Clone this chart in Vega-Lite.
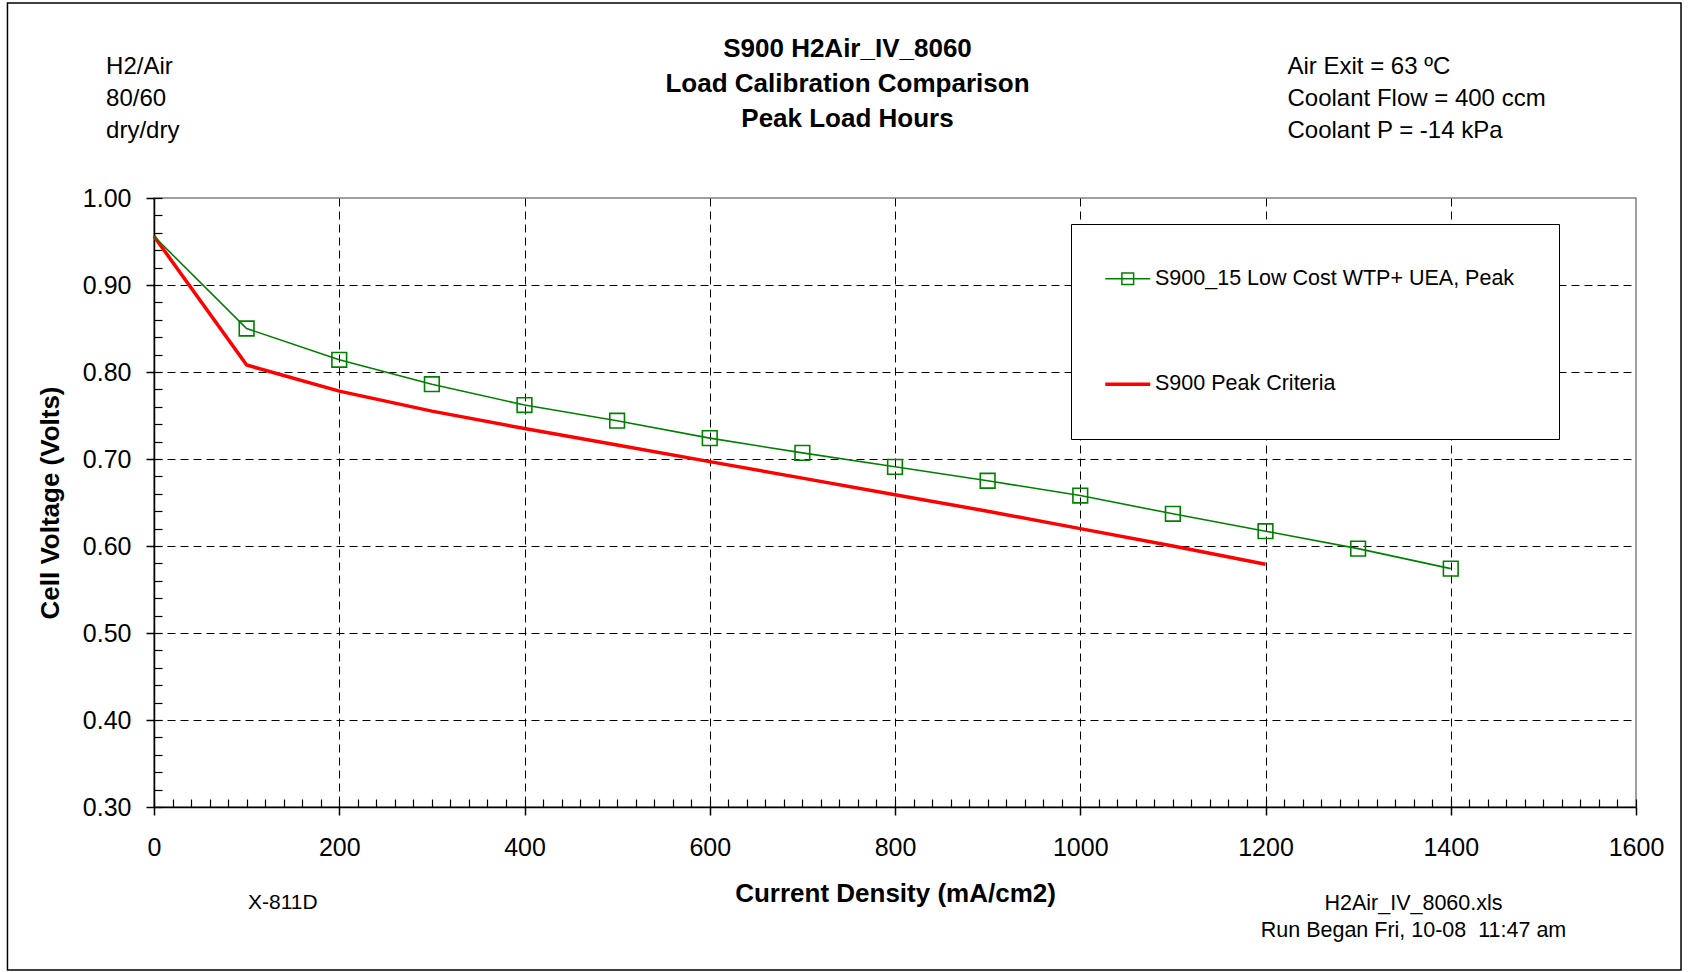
{
  "$schema": "https://vega.github.io/schema/vega-lite/v6.json",
  "width": 1482,
  "height": 609,
  "autosize": {"type": "none"},
  "padding": {"left": 154, "top": 198, "right": 54, "bottom": 165},
  "background": "white",
  "config": {
    "font": "Liberation Sans",
    "view": {"stroke": "#808080", "strokeWidth": 1.5},
    "axis": {"labelColor": "black", "tickColor": "black", "domainColor": "black", "titleColor": "black", "labelFont": "Liberation Sans", "titleFont": "Liberation Sans"}
  },
  "data": {
    "values": [
      {"series": "S900_15 Low Cost WTP+ UEA, Peak", "current": 0, "voltage": 0.956},
      {"series": "S900_15 Low Cost WTP+ UEA, Peak", "current": 100, "voltage": 0.850},
      {"series": "S900_15 Low Cost WTP+ UEA, Peak", "current": 200, "voltage": 0.814},
      {"series": "S900_15 Low Cost WTP+ UEA, Peak", "current": 300, "voltage": 0.786},
      {"series": "S900_15 Low Cost WTP+ UEA, Peak", "current": 400, "voltage": 0.762},
      {"series": "S900_15 Low Cost WTP+ UEA, Peak", "current": 500, "voltage": 0.744},
      {"series": "S900_15 Low Cost WTP+ UEA, Peak", "current": 600, "voltage": 0.724},
      {"series": "S900_15 Low Cost WTP+ UEA, Peak", "current": 700, "voltage": 0.707},
      {"series": "S900_15 Low Cost WTP+ UEA, Peak", "current": 800, "voltage": 0.691},
      {"series": "S900_15 Low Cost WTP+ UEA, Peak", "current": 900, "voltage": 0.675},
      {"series": "S900_15 Low Cost WTP+ UEA, Peak", "current": 1000, "voltage": 0.658},
      {"series": "S900_15 Low Cost WTP+ UEA, Peak", "current": 1100, "voltage": 0.637},
      {"series": "S900_15 Low Cost WTP+ UEA, Peak", "current": 1200, "voltage": 0.617},
      {"series": "S900_15 Low Cost WTP+ UEA, Peak", "current": 1300, "voltage": 0.597},
      {"series": "S900_15 Low Cost WTP+ UEA, Peak", "current": 1400, "voltage": 0.574},
      {"series": "S900 Peak Criteria", "current": 0, "voltage": 0.956},
      {"series": "S900 Peak Criteria", "current": 100, "voltage": 0.808},
      {"series": "S900 Peak Criteria", "current": 200, "voltage": 0.778},
      {"series": "S900 Peak Criteria", "current": 300, "voltage": 0.755},
      {"series": "S900 Peak Criteria", "current": 400, "voltage": 0.735},
      {"series": "S900 Peak Criteria", "current": 500, "voltage": 0.716},
      {"series": "S900 Peak Criteria", "current": 600, "voltage": 0.697},
      {"series": "S900 Peak Criteria", "current": 700, "voltage": 0.678},
      {"series": "S900 Peak Criteria", "current": 800, "voltage": 0.659},
      {"series": "S900 Peak Criteria", "current": 900, "voltage": 0.640},
      {"series": "S900 Peak Criteria", "current": 1000, "voltage": 0.620},
      {"series": "S900 Peak Criteria", "current": 1100, "voltage": 0.600},
      {"series": "S900 Peak Criteria", "current": 1200, "voltage": 0.579}
    ]
  },
  "layer": [
    {
      "data": {"values": [{"frame": "outer"}]},
      "mark": {"type": "rect", "fill": "transparent", "stroke": "black", "strokeWidth": 1.5, "clip": false},
      "encoding": {
        "x": {"datum": -158.2, "type": "quantitative", "scale": {"domain": [0, 1600], "nice": false, "zero": false}, "axis": null},
        "x2": {"datum": 1648.6},
        "y": {"datum": 1.2241, "type": "quantitative", "scale": {"domain": [0.3, 1.0], "nice": false, "zero": false},
          "axis": {"orient": "left", "labels": false, "ticks": false, "domain": false, "grid": false,
            "title": ["S900 H2Air_IV_8060", "Load Calibration Comparison", "Peak Load Hours"],
            "titleAngle": 0, "titleAlign": "center", "titleBaseline": "alphabetic",
            "titleX": 693, "titleY": -141.3, "titleFontSize": 26, "titleFontWeight": "bold", "titleLineHeight": 35}},
        "y2": {"datum": 0.1126}
      }
    },
    {
      "transform": [{"filter": "datum.series === 'S900 Peak Criteria'"}],
      "mark": {"type": "line", "strokeWidth": 3.5},
      "encoding": {
        "x": {"field": "current", "type": "quantitative",
          "axis": {"orient": "bottom", "values": [0, 200, 400, 600, 800, 1000, 1200, 1400, 1600], "format": "d",
            "labelFontSize": 25, "labelPadding": 20, "labelFlush": false, "labelOverlap": false,
            "tickSize": 8, "tickWidth": 1.5, "domainWidth": 1.5, "grid": false,
            "title": "Current Density (mA/cm2)", "titleFontSize": 26, "titleFontWeight": "bold",
            "titleX": 741, "titleY": 86.5, "titleBaseline": "middle", "titleAlign": "center"}},
        "y": {"field": "voltage", "type": "quantitative",
          "axis": {"orient": "left", "values": [0.3, 0.4, 0.5, 0.6, 0.7, 0.8, 0.9, 1.0], "format": ".2f",
            "labelFontSize": 25, "labelPadding": 15, "labelFlush": false, "labelOverlap": false,
            "tickSize": 8, "tickWidth": 1.5, "domainWidth": 1.5, "grid": false,
            "title": "Cell Voltage (Volts)", "titleFontSize": 26, "titleFontWeight": "bold",
            "titleX": -103.3, "titleY": 304.5, "titleAngle": 270, "titleBaseline": "middle", "titleAlign": "center"}},
        "color": {"field": "series", "type": "nominal",
          "scale": {"domain": ["S900_15 Low Cost WTP+ UEA, Peak", "S900 Peak Criteria"], "range": ["#008000", "#ff0000"]},
          "legend": {"orient": "none", "legendX": 917, "legendY": 26, "title": null,
            "strokeColor": "black", "fillColor": "white", "padding": 44, "rowPadding": 82.6,
            "labelFontSize": 21.5, "labelLimit": 800, "labelOffset": 16.5, "labelColor": "black",
            "symbolSize": 2025, "symbolOffset": 2, "symbolType": "M-1,0H1", "symbolStrokeWidth": 1.5,
            "encode": {"symbols": {"update": {
              "shape": {"signal": "datum.value === 'S900 Peak Criteria' ? 'M-1,0H1' : 'M-1,0H1M-0.26,-0.26H0.26V0.26H-0.26Z'"},
              "strokeWidth": {"signal": "datum.value === 'S900 Peak Criteria' ? 3.5 : 1.5"},
              "fill": {"value": "transparent"}
            }}}}}
      }
    },
    {
      "transform": [{"filter": "datum.series === 'S900_15 Low Cost WTP+ UEA, Peak'"}],
      "mark": {"type": "line", "strokeWidth": 1.6, "color": "#008000"},
      "encoding": {
        "x": {"field": "current", "type": "quantitative",
          "axis": {"orient": "bottom", "values": [0,20,40,60,80,100,120,140,160,180,200,220,240,260,280,300,320,340,360,380,400,420,440,460,480,500,520,540,560,580,600,620,640,660,680,700,720,740,760,780,800,820,840,860,880,900,920,940,960,980,1000,1020,1040,1060,1080,1100,1120,1140,1160,1180,1200,1220,1240,1260,1280,1300,1320,1340,1360,1380,1400,1420,1440,1460,1480,1500,1520,1540,1560,1580,1600],
            "labels": false, "tickSize": -8, "tickWidth": 1.2, "domain": false, "grid": false,
            "title": "X-811D", "titleFontSize": 21, "titleFontWeight": "normal",
            "titleX": 128.4, "titleY": 101.5, "titleBaseline": "alphabetic", "titleAlign": "center"}},
        "y": {"field": "voltage", "type": "quantitative",
          "axis": {"orient": "left", "values": [0.3,0.32,0.34,0.36,0.38,0.4,0.42,0.44,0.46,0.48,0.5,0.52,0.54,0.56,0.58,0.6,0.62,0.64,0.66,0.68,0.7,0.72,0.74,0.76,0.78,0.8,0.82,0.84,0.86,0.88,0.9,0.92,0.94,0.96,0.98,1.0],
            "labels": false, "tickSize": -8, "tickWidth": 1.2, "domain": false, "grid": false,
            "title": ["H2/Air", "80/60", "dry/dry"], "titleAngle": 0, "titleAlign": "left", "titleBaseline": "alphabetic",
            "titleX": -48.4, "titleY": -124.7, "titleFontSize": 24, "titleFontWeight": "normal", "titleLineHeight": 32.3}}
      }
    },
    {
      "transform": [{"filter": "datum.series === 'S900_15 Low Cost WTP+ UEA, Peak' && datum.current > 0"}],
      "mark": {"type": "point", "shape": "square", "filled": false, "size": 216, "strokeWidth": 1.6, "color": "#008000", "opacity": 1},
      "encoding": {
        "x": {"field": "current", "type": "quantitative",
          "axis": {"orient": "bottom", "values": [200, 400, 600, 800, 1000, 1200, 1400],
            "labels": false, "ticks": false, "domain": false, "grid": true, "gridColor": "black", "gridWidth": 1, "gridDash": [8, 5],
            "title": ["H2Air_IV_8060.xls", "Run Began Fri, 10-08\u00a0 11:47 am"], "titleFontSize": 21.5, "titleFontWeight": "normal",
            "titleX": 1259, "titleY": 102.8, "titleBaseline": "alphabetic", "titleAlign": "center", "titleLineHeight": 27}},
        "y": {"field": "voltage", "type": "quantitative",
          "axis": {"orient": "left", "values": [0.4, 0.5, 0.6, 0.7, 0.8, 0.9],
            "labels": false, "ticks": false, "domain": false, "grid": true, "gridColor": "black", "gridWidth": 1, "gridDash": [8, 5],
            "title": ["Air Exit = 63 ºC", "Coolant Flow = 400 ccm", "Coolant P = -14 kPa"], "titleAngle": 0, "titleAlign": "left", "titleBaseline": "alphabetic",
            "titleX": 1133, "titleY": -124.7, "titleFontSize": 24, "titleFontWeight": "normal", "titleLineHeight": 32.3}}
      }
    }
  ],
  "resolve": {"axis": {"x": "independent", "y": "independent"}}
}
